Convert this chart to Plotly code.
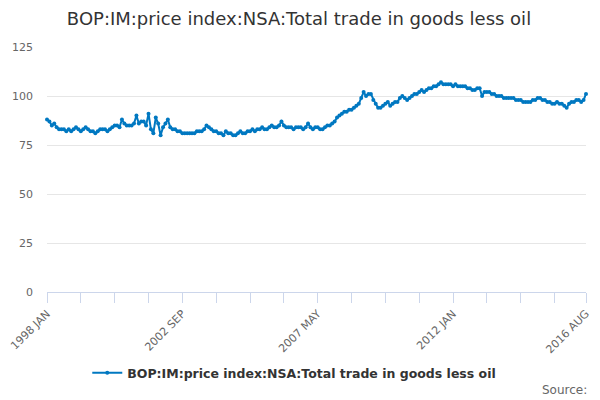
import plotly.graph_objects as go

# Monthly series, 1998 JAN to 2016 AUG
years = list(range(1998, 2017))
months = ['JAN', 'FEB', 'MAR', 'APR', 'MAY', 'JUN',
          'JUL', 'AUG', 'SEP', 'OCT', 'NOV', 'DEC']

v1998 = [88, 87, 85, 86, 84, 83, 83, 83, 82, 83, 82, 83]
v1999 = [84, 83, 82, 83, 84, 83, 82, 82, 81, 82, 83, 83]
v2000 = [83, 82, 83, 84, 85, 85, 84, 88, 86, 85, 85, 85]
v2001 = [86, 90, 86, 87, 87, 85, 91, 83, 81, 89, 86, 80]
v2002 = [84, 86, 88, 84, 83, 83, 82, 82, 81, 81, 81, 81]
v2003 = [81, 81, 82, 82, 82, 83, 85, 84, 83, 82, 82, 81]
v2004 = [81, 80, 82, 81, 81, 80, 80, 81, 82, 81, 81, 82]
v2005 = [82, 83, 82, 83, 83, 84, 83, 83, 84, 85, 84, 84]
v2006 = [85, 87, 85, 84, 84, 84, 83, 84, 84, 84, 83, 84]
v2007 = [86, 84, 83, 84, 84, 83, 83, 84, 85, 85, 86, 87]
v2008 = [89, 90, 91, 92, 92, 93, 93, 94, 95, 96, 99, 102]
v2009 = [100, 101, 101, 98, 96, 94, 94, 95, 96, 97, 95, 96]
v2010 = [97, 97, 99, 100, 99, 98, 99, 100, 101, 101, 102, 103]
v2011 = [102, 103, 104, 104, 105, 105, 106, 107, 106, 106, 106, 106]
v2012 = [105, 106, 105, 105, 105, 105, 104, 104, 103, 103, 104, 104]
v2013 = [100, 102, 102, 102, 101, 101, 100, 100, 100, 99, 99, 99]
v2014 = [99, 99, 98, 98, 98, 97, 97, 97, 97, 98, 98, 99]
v2015 = [99, 98, 98, 97, 97, 96, 96, 97, 96, 96, 95, 94]
v2016 = [96, 97, 97, 98, 98, 97, 98, 101]

values = (v1998 + v1999 + v2000 + v2001 + v2002 + v2003 + v2004 + v2005 +
          v2006 + v2007 + v2008 + v2009 + v2010 + v2011 + v2012 + v2013 +
          v2014 + v2015 + v2016)

labels = [f'{y} {m}' for y in years for m in months][:len(values)]

# ticks every 14 months, labels every 4th tick, plus the last month
last = len(values) - 1
tick_idx = list(range(0, 211, 14)) + [last]
tick_vals = [labels[i] for i in tick_idx]
tick_text = [labels[i] if (i % 56 == 0 or i == last) else ''
             for i in tick_idx]

blue = '#0078c1'
series_name = 'BOP:IM:price index:NSA:Total trade in goods less oil'

# the page puts the figure 8px in from the top-left corner
W, H = 592, 392
L, R, T, B = 38.5, 14, 39, 108
pw, ph = W - L - R, H - T - B

fig = go.Figure()
fig.add_trace(go.Scatter(
    x=labels, y=values, mode='lines+markers', name=series_name,
    line=dict(color=blue, width=2),
    marker=dict(color=blue, size=4),
    cliponaxis=False,
))

fig.update_layout(
    width=W, height=H,
    paper_bgcolor='white', plot_bgcolor='white',
    font=dict(family='DejaVu Sans', color='#666666'),
    margin=dict(l=L, r=R, t=T, b=B, pad=0, autoexpand=False),
    title=dict(text=series_name, x=291 / W, xanchor='center',
               y=1 - 10.5 / H, yanchor='middle',
               font=dict(size=18, color='#333333')),
    showlegend=True,
    legend=dict(orientation='h', x=(286 - L) / pw, xanchor='center',
                y=(ph + T - 365) / ph, yanchor='middle', itemwidth=30,
                font=dict(size=12.5, color='#333333', weight='bold')),
    xaxis=dict(type='category', range=[0, last],
               tickmode='array', tickvals=tick_vals, ticktext=tick_text,
               tickangle=-45, ticks='outside', ticklen=10,
               tickcolor='#ccd6eb', showline=True, linecolor='#ccd6eb',
               showgrid=False, tickfont=dict(size=11, color='#666666')),
    yaxis=dict(range=[0, 125], tickvals=[0, 25, 50, 75, 100, 125],
               showgrid=True, gridcolor='#e6e6e6', zeroline=False,
               showline=False, ticklabelstandoff=13,
               tickfont=dict(size=11, color='#666666')),
)

fig.add_annotation(text='Source:', xref='paper', yref='paper',
                   x=(581 - L) / pw, y=(ph + T - 382) / ph,
                   xanchor='right', yanchor='middle', showarrow=False,
                   font=dict(size=12, color='#666666'))

fig.write_html('out.html')
